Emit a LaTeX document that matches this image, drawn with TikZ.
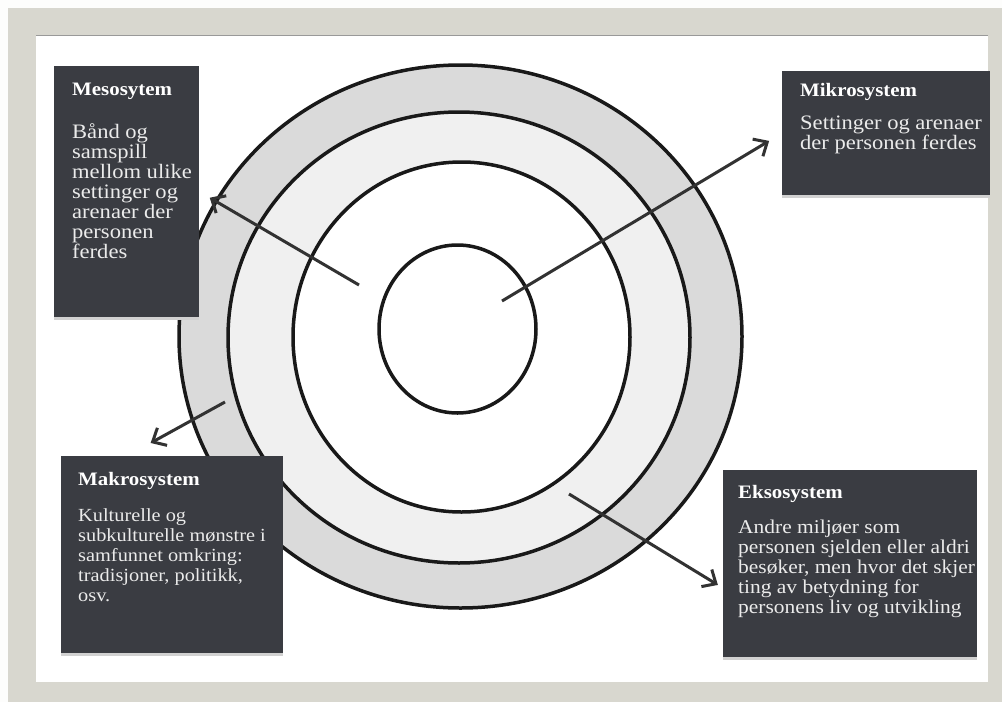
\documentclass[tikz,border=0pt]{standalone}
\usepackage{fontspec}
\setmainfont{Liberation Serif}
\newfontfamily\boxfont[FakeStretch=1.1]{Liberation Serif}
\usetikzlibrary{calc, arrows.meta, positioning}
\definecolor{framegray}{RGB}{216,215,207}
\definecolor{boxgray}{RGB}{58,60,66}
\definecolor{ringouter}{RGB}{218,218,218}
\definecolor{ringmid}{RGB}{240,240,240}
\definecolor{pointergray}{RGB}{50,50,50}
\tikzset{
	sysbox/.style={fill=boxgray, inner sep=0pt, anchor=north west, preaction={fill=black!18, transform canvas={yshift=-3pt}}},
	systitle/.style={text=white, font=\boxfont\bfseries\fontsize{19}{20}\selectfont, inner sep=0pt, anchor=base west},
	sysbody/.style={text=white!92!black, font=\boxfont\fontsize{#1}{20}\selectfont, align=left, inner sep=0pt, anchor=north west, execute at begin node=\rule{0pt}{17pt}},
	sysbody/.default=19.5,
	ring/.style={line width=3.5pt, draw=black!90},
	pointer/.style={line width=3pt, draw=pointergray, -{Straight Barb[length=11pt,width=20pt]}}
}

\begin{document}
\begin{tikzpicture}[x=1pt, y=-1pt]
	\useasboundingbox (0,0) rectangle (1002,702);

	% --- frame ---
	\fill[white!94!framegray] (0,0) rectangle (1002,702);
	\fill[framegray] (8,8) rectangle (1002,702);
	\fill[white] (36,35) rectangle (988,682);
	\draw[black!40, line width=1pt] (36,35) -- (988,35);

	% --- the four rings ---
	\draw[ring, fill=ringouter] (460.5,336.5) ellipse [x radius=281.5pt, y radius=271.5pt];
	\draw[ring, fill=ringmid] (459,337.5) ellipse [x radius=231pt, y radius=225.5pt];
	\draw[ring, fill=white] (461.5,337) ellipse [x radius=168.5pt, y radius=175pt];
	\draw[ring] (457.5,329) ellipse [x radius=78.5pt, y radius=84pt];

	% --- boxes (body starts 17pt above its first baseline) ---
	\node[sysbox, minimum width=145pt, minimum height=251pt] (meso) at (54,66) {};
	\node[systitle] (mesoT) at ([shift={(18,29)}]meso.north west) {Mesosytem};
	\node[sysbody=20.5] (mesoB) at ([shift={(0,28)}]mesoT.base west) {Bånd og\\samspill\\mellom ulike\\settinger og\\arenaer der\\personen\\ferdes};

	\node[sysbox, minimum width=208pt, minimum height=124pt] (mikro) at (782,71) {};
	\node[systitle] (mikroT) at ([shift={(18,25)}]mikro.north west) {Mikrosystem};
	\node[sysbody=20.5] (mikroB) at ([shift={(0,20)}]mikroT.base west) {Settinger og arenaer\\der personen ferdes};

	\node[sysbox, minimum width=222pt, minimum height=197pt] (makro) at (61,456) {};
	\node[systitle] (makroT) at ([shift={(17,29)}]makro.north west) {Makrosystem};
	\node[sysbody=18.5] (makroB) at ([shift={(0,23)}]makroT.base west) {Kulturelle og\\subkulturelle mønstre i\\samfunnet omkring:\\tradisjoner, politikk,\\osv.};

	\node[sysbox, minimum width=254pt, minimum height=187pt] (ekso) at (723,470) {};
	\node[systitle] (eksoT) at ([shift={(15,28)}]ekso.north west) {Eksosystem};
	\node[sysbody] (eksoB) at ([shift={(0,22)}]eksoT.base west) {Andre miljøer som\\personen sjelden eller aldri\\besøker, men hvor det skjer\\ting av betydning for\\personens liv og utvikling};

	% --- pointers ---
	\coordinate (mesoTail) at (359,285);
	\coordinate (mikroTail) at (502,301);
	\coordinate (makroTail) at (225,402);
	\coordinate (eksoTail) at (569,494);
	\draw[pointer, shorten >=12pt] (mesoTail) -- (meso.east);
	\draw[pointer, shorten >=15pt] (mikroTail) -- (mikro.west);
	\draw[pointer, shorten >=27pt] (makroTail) -- ($(makro.north west)+(66,0)$);
	\draw[pointer, shorten >=6pt] (eksoTail) -- ($(ekso.north west)!0.63!(ekso.south west)$);
\end{tikzpicture}
\end{document}
